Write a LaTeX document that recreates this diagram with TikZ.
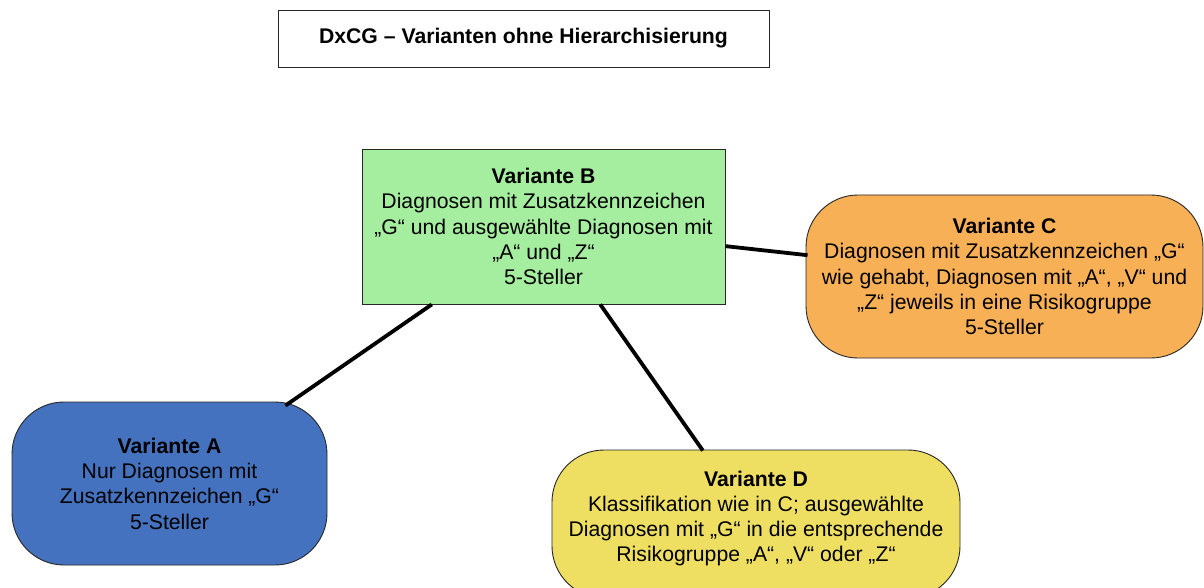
\documentclass[tikz,border=0pt]{standalone}
\usepackage{fontspec}
\setmainfont{Liberation Sans}
\usetikzlibrary{calc}
\definecolor{bgreen}{RGB}{166,238,159}
\definecolor{corange}{RGB}{248,176,86}
\definecolor{ablue}{RGB}{68,114,190}
\definecolor{dyellow}{RGB}{238,223,98}
\begin{document}
\begin{tikzpicture}[x=1pt,y=-1pt,
  txt/.style={font=\fontsize{21.2}{25.3}\selectfont, align=center, inner sep=0pt},
  box/.style={txt, draw=black!85, line width=0.9pt},
  rbox/.style={box, rounded corners=52pt},
  conn/.style={line width=3.8pt, black}]
\useasboundingbox (0,0) rectangle (1204,588);
\node[box, minimum width=491pt, minimum height=57pt, font=\fontsize{21.2}{25}\selectfont\bfseries] (T) at (523.5,38.5) {DxCG – Varianten ohne Hierarchisierung};
\node[box, fill=bgreen, minimum width=363pt, minimum height=155pt] (B) at (543.5,226.5)
  {\textbf{Variante B}\\Diagnosen mit Zusatzkennzeichen\\„G“ und ausgewählte Diagnosen mit\\„A“ und „Z“\\5-Steller};
\node[rbox, fill=corange, minimum width=397pt, minimum height=163pt] (C) at (1004.5,276.5)
  {\textbf{Variante C}\\Diagnosen mit Zusatzkennzeichen „G“\\wie gehabt, Diagnosen mit „A“, „V“ und\\„Z“ jeweils in eine Risikogruppe\\5-Steller};
\node[rbox, fill=ablue, minimum width=315pt, minimum height=163pt] (A) at (169.5,483.5)
  {\textbf{Variante A}\\Nur Diagnosen mit\\Zusatzkennzeichen „G“\\5-Steller};
\node[rbox, fill=dyellow, minimum width=408pt, minimum height=148pt,
  label={[txt, yshift=5.5pt]center:{\textbf{Variante D}\\Klassifikation wie in C; ausgewählte\\Diagnosen mit „G“ in die entsprechende\\Risikogruppe „A“, „V“ oder „Z“}}] (D) at (756,524) {};
\draw[conn] ($(B.north east)!0.626!(B.south east)$) -- ($(C.north west)!0.37!(C.south west)+(2,0)$);
\draw[conn] ($(B.south west)!0.193!(B.south east)$) -- ($(A.north west)!0.867!(A.north east)+(0,4)$);
\draw[conn] ($(B.south west)!0.656!(B.south east)$) -- ($(D.north west)!0.37!(D.north east)+(0,1)$);
\end{tikzpicture}
\end{document}
